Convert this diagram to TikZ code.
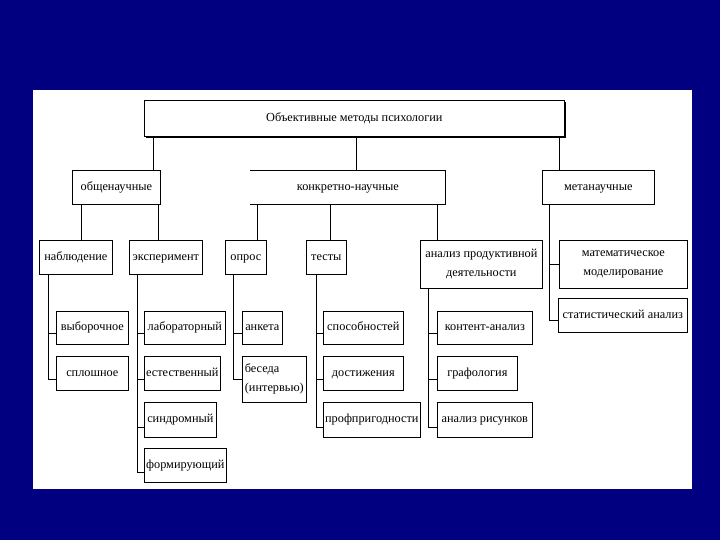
\documentclass[tikz,border=0pt]{standalone}
\usepackage{fontspec}
\setmainfont{Liberation Serif}
\usetikzlibrary{shadows}
\definecolor{navy}{RGB}{0,0,128}

\begin{document}
\begin{tikzpicture}[x=1pt, y=-1pt, font=\fontsize{12.3}{14}\selectfont,
  cell/.style={draw, fill=white, line width=0.7pt, inner sep=1pt, anchor=north west, align=center,
    drop shadow={shadow xshift=0.9pt, shadow yshift=-0.9pt, fill=black, opacity=1}},
  box/.style={cell, text height=8.5pt, text depth=2.5pt},
  two/.style={cell, font=\fontsize{12.3}{19}\selectfont},
  sz/.style 2 args={minimum width=#1pt, minimum height=#2pt},
  link/.style={line width=0.7pt}]
  % slide
  \fill[navy] (0,0) rectangle (720,540);
  \fill[white] (33,90) rectangle (692,489);
  % top levels
  \node[box, sz={420}{36}, drop shadow={shadow xshift=1.8pt, shadow yshift=-1.8pt, fill=black, opacity=1}] (title) at (144,100) {Объективные методы психологии};
  \node[box, sz={88}{34}] (obsh) at (72,170) {общенаучные};
  \node[box, draw=none, sz={195}{34}] (konk) at (250,170) {конкретно-научные};
  \draw[link] (konk.north west) -- (konk.north east) -- (konk.south east) -- (konk.south west);
  \node[box, sz={112}{34}] (meta) at (542,170) {метанаучные};
  % methods
  \node[box, sz={73}{34}] (nab) at (39,240) {наблюдение};
  \node[box, sz={73}{34}] (eksp) at (129,240) {эксперимент};
  \node[box, sz={41}{34}] (opros) at (225,240) {опрос};
  \node[box, sz={40}{34}] (testy) at (306,240) {тесты};
  \node[two, sz={122}{48}] (analiz) at (420,240) {анализ продуктивной\\деятельности};
  \node[two, sz={128}{48}] (matem) at (559,240) {математическое\\моделирование};
  \node[box, sz={129}{34}] (stat) at (558,298) {статистический анализ};
  % kinds
  \node[box, sz={72}{33}] (vyb) at (56,311) {выборочное};
  \node[box, sz={72}{34}] (spl) at (56,356) {сплошное};
  \node[box, sz={81}{33}] (lab) at (144,311) {лабораторный};
  \node[box, sz={76}{34}] (est) at (144,356) {естественный};
  \node[box, sz={72}{35}] (sind) at (144,402) {синдромный};
  \node[box, sz={82}{34}] (form) at (144,448) {формирующий};
  \node[box, sz={40}{33}] (anketa) at (242,311) {анкета};
  \node[two, sz={64}{46}, align=left] (beseda) at (242,356) {беседа\\(интервью)};
  \node[box, sz={80}{33}] (spos) at (323,311) {способностей};
  \node[box, sz={80}{34}] (dost) at (323,356) {достижения};
  \node[box, sz={97}{35}] (prof) at (323,402) {профпригодности};
  \node[box, sz={95}{33}] (kont) at (437,311) {контент-анализ};
  \node[box, sz={80}{34}] (graf) at (437,356) {графология};
  \node[box, sz={95}{35}] (risunk) at (437,402) {анализ рисунков};
  % links between levels
  \draw[link] (153,0 |- title.south) -- (153,0 |- obsh.north);
  \draw[link] (356,0 |- title.south) -- (356,0 |- konk.north);
  \draw[link] (559,0 |- title.south) -- (559,0 |- meta.north);
  \draw[link] (81,0 |- obsh.south) -- (81,0 |- nab.north);
  \draw[link] (158,0 |- obsh.south) -- (158,0 |- eksp.north);
  \draw[link] (257,0 |- konk.south) -- (257,0 |- opros.north);
  \draw[link] (330,0 |- konk.south) -- (330,0 |- testy.north);
  \draw[link] (437,0 |- konk.south) -- (437,0 |- analiz.north);
  \draw[link] (549,0 |- meta.south) |- (matem.west);
  \draw[link] (549,0 |- meta.south) |- ([yshift=-5pt]stat.west);
  % columns
  \draw[link] (48,0 |- nab.south) |- ([yshift=-5pt]vyb.west);
  \draw[link] (48,0 |- nab.south) |- ([yshift=-6pt]spl.west);
  \draw[link] (137,0 |- eksp.south) |- ([yshift=-5pt]lab.west);
  \draw[link] (137,0 |- eksp.south) |- ([yshift=-6pt]est.west);
  \draw[link] (137,0 |- eksp.south) |- ([yshift=-7pt]sind.west);
  \draw[link] (137,0 |- eksp.south) |- ([yshift=-7pt]form.west);
  \draw[link] (233,0 |- opros.south) |- ([yshift=-5pt]anketa.west);
  \draw[link] (233,0 |- opros.south) |- (beseda.west);
  \draw[link] (316,0 |- testy.south) |- ([yshift=-5pt]spos.west);
  \draw[link] (316,0 |- testy.south) |- ([yshift=-6pt]dost.west);
  \draw[link] (316,0 |- testy.south) |- ([yshift=-7pt]prof.west);
  \draw[link] (428,0 |- analiz.south) |- ([yshift=-5pt]kont.west);
  \draw[link] (428,0 |- analiz.south) |- ([yshift=-6pt]graf.west);
  \draw[link] (428,0 |- analiz.south) |- ([yshift=-7pt]risunk.west);
\end{tikzpicture}
\end{document}
